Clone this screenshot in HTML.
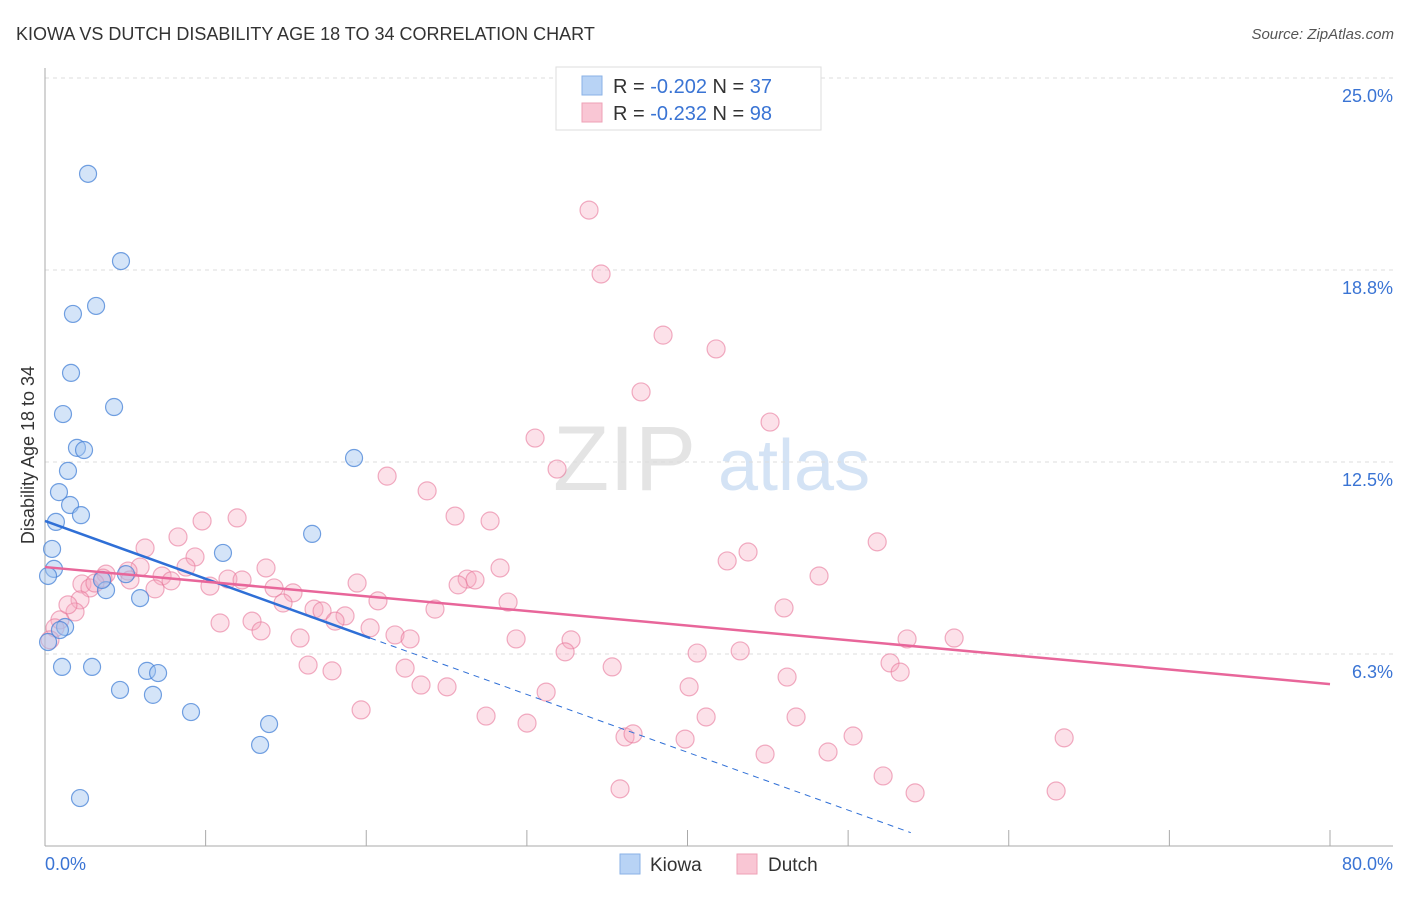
<!DOCTYPE html>
<html><head><meta charset="utf-8"><style>
body{margin:0;background:#fff;font-family:"Liberation Sans",sans-serif}
svg text{font-family:"Liberation Sans",sans-serif}
</style></head><body>
<svg id="c" width="1406" height="892" xmlns="http://www.w3.org/2000/svg">
<text x="16" y="40" font-size="18" fill="#333">KIOWA VS DUTCH DISABILITY AGE 18 TO 34 CORRELATION CHART</text>
<text x="1394" y="39" font-size="15" fill="#555" font-style="italic" text-anchor="end">Source: ZipAtlas.com</text>
<g>
<text x="553" y="490" font-size="92" fill="#e4e4e4" font-family="Liberation Serif,serif">ZIP</text>
<text x="718" y="490" font-size="72" fill="#d4e3f5">atlas</text>
</g>
<g id="grid"></g>
<g id="axes"></g>
<g id="pts"></g>
<g id="lines"></g>
<text transform="translate(34,455) rotate(-90)" font-size="18" fill="#333" text-anchor="middle">Disability Age 18 to 34</text>
<g>
<rect x="556" y="67" width="265" height="63" fill="#fff" stroke="#ddd"/>
<rect x="582" y="76" width="20" height="19" fill="#b8d3f5" stroke="#8ab2e6"/>
<rect x="582" y="103" width="20" height="19" fill="#f9c6d4" stroke="#eea0b6"/>
<text x="613" y="93" font-size="20" fill="#333">R = <tspan fill="#3a74d4">-0.202</tspan>   N = <tspan fill="#3a74d4">37</tspan></text>
<text x="613" y="120" font-size="20" fill="#333">R = <tspan fill="#3a74d4"> -0.232</tspan>   N = <tspan fill="#3a74d4">98</tspan></text>
</g>
<g>
<rect x="620" y="854" width="20" height="20" fill="#b8d3f5" stroke="#8ab2e6"/>
<text x="650" y="871" font-size="19" fill="#333">Kiowa</text>
<rect x="737" y="854" width="20" height="20" fill="#f9c6d4" stroke="#eea0b6"/>
<text x="768" y="871" font-size="19" fill="#333">Dutch</text>
</g>
</svg>
<script>
const yTicks=[6.25,12.5,18.75,25];
const yTickLabels=["6.3%","12.5%","18.8%","25.0%"];
const xTicks=[0,10,20,30,40,50,60,70,80];
const kiowaX=[2.68,4.73,3.18,1.74,1.62,4.30,1.12,1.99,2.43,1.43,0.87,1.56,2.24,0.68,0.44,0.56,0.19,5.04,3.80,5.92,3.55,11.08,16.63,19.24,1.25,0.93,0.19,1.06,2.93,6.35,7.04,4.67,6.72,9.09,13.95,13.39,2.18];
const kiowaY=[21.88,19.04,17.58,17.32,15.40,14.29,14.06,12.96,12.89,12.21,11.52,11.10,10.77,10.55,9.67,9.02,8.79,8.85,8.33,8.07,8.66,9.54,10.16,12.63,7.13,7.03,6.64,5.83,5.83,5.70,5.63,5.08,4.92,4.36,3.97,3.29,1.56];
const dutchX=[33.87,34.62,38.48,41.78,37.11,45.14,30.51,31.88,21.30,23.79,25.53,27.71,9.78,11.96,8.28,51.81,43.77,42.47,28.33,6.23,9.34,13.76,48.19,26.28,26.77,25.72,19.43,8.78,7.29,5.92,5.17,3.80,3.61,5.29,2.30,2.80,6.85,7.85,11.39,12.27,14.26,15.44,10.27,20.73,28.83,24.28,46.01,16.75,17.25,14.82,18.68,18.06,10.90,12.89,13.45,20.24,21.79,22.73,15.88,29.33,32.75,32.38,53.67,56.60,43.28,40.60,35.31,22.42,16.38,17.87,52.61,53.24,46.20,23.41,25.03,31.20,40.10,19.68,27.46,30.01,41.16,46.76,36.11,36.61,39.85,50.31,63.45,44.83,48.75,52.18,35.80,54.17,62.95,2.18,1.87,0.93,0.62,0.31,1.43,3.11];
const dutchY=[20.70,18.62,16.63,16.18,14.78,13.80,13.28,12.27,12.04,11.56,10.74,10.58,10.58,10.68,10.06,9.90,9.57,9.28,9.05,9.70,9.41,9.05,8.79,8.69,8.66,8.50,8.56,9.08,8.79,9.08,8.95,8.85,8.72,8.66,8.53,8.40,8.37,8.63,8.69,8.66,8.40,8.24,8.46,7.98,7.94,7.71,7.75,7.71,7.65,7.91,7.49,7.32,7.26,7.32,7.00,7.10,6.87,6.74,6.77,6.74,6.71,6.32,6.74,6.77,6.35,6.28,5.83,5.79,5.89,5.70,5.96,5.66,5.50,5.24,5.18,5.01,5.18,4.43,4.23,4.00,4.20,4.20,3.55,3.65,3.48,3.58,3.52,2.99,3.06,2.28,1.86,1.73,1.79,8.01,7.62,7.36,7.10,6.71,7.85,8.56];
const kiowaTrend=[10.58,6.77];   // y at x=0 and x=20.24 (solid end)
const kiowaTrendX=[0,20.24,53.9];
const dutchTrend=[9.08,5.27];   // y at x=0 and x=80
const NS="http://www.w3.org/2000/svg";
const X=v=>45+v*1285/80, Y=v=>846-v*192/6.25;
function mk(t,a,p){const e=document.createElementNS(NS,t);for(const k in a)e.setAttribute(k,a[k]);p.appendChild(e);return e;}
const grid=document.getElementById('grid'),axes=document.getElementById('axes'),pts=document.getElementById('pts'),lines=document.getElementById('lines');
yTicks.forEach((t,i)=>{
 const l=mk('line',{x1:45,x2:1393,y1:Y(t),y2:Y(t),stroke:'#ddd','stroke-dasharray':'4,4'},grid);
 
 
 const tx=mk('text',{x:1393,y:Y(t)+24,'font-size':18,fill:'#3a74d4','text-anchor':'end'},axes);
 tx.textContent=yTickLabels[i];
 
 
});
const ya=mk('line',{x1:45,x2:45,y1:68,y2:846,stroke:'#aaa'},axes);


const xa=mk('line',{x1:45,x2:1393,y1:846,y2:846,stroke:'#aaa'},axes);


xTicks.forEach(t=>{
 const l=mk('line',{x1:X(t),x2:X(t),y1:830,y2:846,stroke:'#aaa'},axes);
 
 
});
const xl0=mk('text',{x:45,y:870,'font-size':18,fill:'#3a74d4'},axes);xl0.textContent='0.0%';


const xl1=mk('text',{x:1393,y:870,'font-size':18,fill:'#3a74d4','text-anchor':'end'},axes);xl1.textContent='80.0%';


dutchX.forEach((x,i)=>{
 const c=mk('circle',{cx:X(x),cy:Y(dutchY[i]),r:9,fill:'rgba(247,168,192,0.35)',stroke:'rgba(232,120,155,0.6)','stroke-width':1.2},pts);
 
 
});
kiowaX.forEach((x,i)=>{
 const c=mk('circle',{cx:X(x),cy:Y(kiowaY[i]),r:8.5,fill:'rgba(160,196,240,0.45)',stroke:'rgba(70,130,215,0.75)','stroke-width':1.2},pts);
 
 
});
const slope=(kiowaTrend[1]-kiowaTrend[0])/(kiowaTrendX[1]-kiowaTrendX[0]);
const k1=mk('line',{x1:X(kiowaTrendX[0]),y1:Y(kiowaTrend[0]),x2:X(kiowaTrendX[1]),y2:Y(kiowaTrend[1]),stroke:'#2f6fd6','stroke-width':2.5},lines);


const k2=mk('line',{x1:X(kiowaTrendX[1]),y1:Y(kiowaTrend[1]),x2:X(kiowaTrendX[2]),y2:Y(kiowaTrend[0]+slope*kiowaTrendX[2]),stroke:'#2f6fd6','stroke-width':1,'stroke-dasharray':'6,5'},lines);


const d1=mk('line',{x1:X(0),y1:Y(dutchTrend[0]),x2:X(80),y2:Y(dutchTrend[1]),stroke:'#e8669a','stroke-width':2.5},lines);


</script>
</body></html>
